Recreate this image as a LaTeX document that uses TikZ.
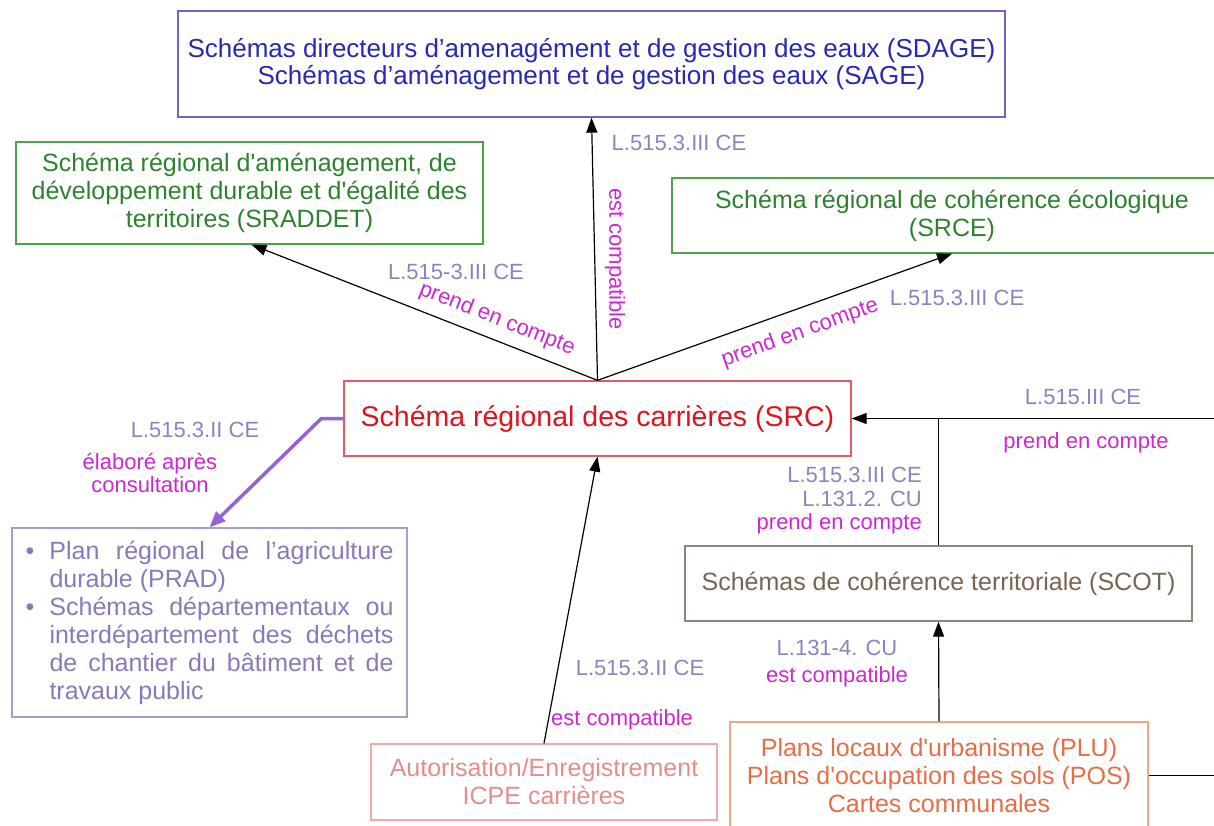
\documentclass[tikz,border=0pt]{standalone}
\usepackage{fontspec}
\setmainfont{Liberation Sans}
\usetikzlibrary{arrows.meta,calc}
\newcommand{\apos}{\XeTeXglyph\XeTeXcharglyph"0027\relax}
\definecolor{sdagetxt}{RGB}{40,40,180}\definecolor{sdageln}{RGB}{110,100,200}
\definecolor{greentxt}{RGB}{45,130,45}\definecolor{greenln}{RGB}{80,160,80}
\definecolor{srctxt}{RGB}{220,20,30}\definecolor{srcln}{RGB}{225,90,100}
\definecolor{pradtxt}{RGB}{140,120,185}\definecolor{pradln}{RGB}{170,155,205}\definecolor{pradarr}{RGB}{150,100,210}
\definecolor{scottxt}{RGB}{120,100,80}\definecolor{scotln}{RGB}{150,130,115}
\definecolor{icpetxt}{RGB}{230,140,140}\definecolor{icpeln}{RGB}{240,170,170}
\definecolor{plutxt}{RGB}{230,110,70}\definecolor{pluln}{RGB}{240,165,140}
\definecolor{lblcol}{RGB}{140,130,195}\definecolor{relcol}{RGB}{205,40,205}
\tikzset{>={Triangle[length=15pt,width=11pt]},every node/.style={font=\fontsize{25}{28}\selectfont},
  box/.style={draw,line width=1.3pt,align=center,inner sep=0pt},
  lbl/.style={text=lblcol,inner sep=0pt,font=\fontsize{22}{23.5}\selectfont},
  rel/.style={text=relcol,inner sep=0pt,font=\fontsize{22}{23.5}\selectfont},
  link/.style={line width=1.2pt,->},wire/.style={line width=1.2pt},
  consult/.style={line width=3.5pt,draw=pradarr,->,>={Triangle[length=16pt,width=13pt]}}}

\begin{document}
\begin{tikzpicture}[x=1pt,y=-1pt]
\useasboundingbox (0,0) rectangle (1214,826);
\node[box,draw=sdageln,text=sdagetxt,minimum width=827pt,minimum height=106pt,font=\fontsize{26}{27}\selectfont] (sdage) at (591.5,64)
  {Schémas directeurs d’amenagément et de gestion des eaux (SDAGE)\\Schémas d’aménagement et de gestion des eaux (SAGE)};
\node[box,draw=greenln,text=greentxt,minimum width=467pt,minimum height=102pt] (sraddet) at (249.5,193)
  {Schéma régional d\apos aménagement, de\\développement durable et d\apos égalité des\\territoires (SRADDET)};
\node[box,draw=greenln,text=greentxt,minimum width=560pt,minimum height=75pt] (srce) at (952,215.5)
  {Schéma régional de cohérence écologique\\(SRCE)};
\node[box,draw=srcln,text=srctxt,minimum width=507pt,minimum height=75pt,font=\fontsize{28.5}{30}\selectfont] (src) at (597.5,418.5)
  {Schéma régional des carrières (SRC)};
\node[box,draw=pradln,text=pradtxt,minimum width=395pt,minimum height=189pt,text width=368pt,align=justify] (prad) at (209.5,622.5)
  {\noindent\hangindent=24pt\hangafter=1\makebox[24pt][l]{\textbullet}Plan régional de l’agriculture\linebreak durable (PRAD)\par
   \noindent\hangindent=24pt\hangafter=1\makebox[24pt][l]{\textbullet}Schémas départementaux ou\linebreak interdépartement des déchets\linebreak de chantier du bâtiment et de\linebreak travaux public\par};
\node[box,draw=scotln,text=scottxt,minimum width=507pt,minimum height=75pt] (scot) at (938.5,583.5)
  {Schémas de cohérence territoriale (SCOT)};
\node[box,draw=icpeln,text=icpetxt,minimum width=346pt,minimum height=76pt] (icpe) at (544,782)
  {Autorisation/Enregistrement\\ICPE carrières};
\node[box,draw=pluln,text=plutxt,minimum width=418pt,minimum height=107pt] (plu) at (939,775.5)
  {Plans locaux d\apos urbanisme (PLU)\\Plans d\apos occupation des sols (POS)\\Cartes communales};
\coordinate (edge) at (1220,418.5);

\draw[link] (src.north) -- (sdage.south);
\draw[link] (src.north) -- ([xshift=2pt]sraddet.south);
\draw[link] (src.north) -- (srce.south);
\draw[link] (edge) -- (src.east);
\draw[wire] (scot.north) -- (scot.north |- src.east);
\draw[link] (plu.north) -- (scot.south);
\draw[wire] (plu.east) -- (plu.east -| edge);
\draw[link] (icpe.north) -- (src.south);
\draw[consult] (src.west) -- ++(-22,0) -- (prad.north);

\node[lbl] (lsdage) at (679,143) {L.515.3.III CE};
\node[rel,rotate=-90] (rsdage) at (615,259) {est compatible};
\node[lbl] (lsraddet) at (456,272) {L.515-3.III CE};
\node[rel,rotate=-21.5] (rsraddet) at (497,319) {prend en compte};
\node[rel,rotate=19.8] (rsrce) at (800,333) {prend en compte};
\node[lbl] (lsrce) at (957,298) {L.515.3.III CE};
\node[lbl] (ledge) at (1083,397) {L.515.III CE};
\node[rel] (redge) at (1086,443) {prend en compte};
\node[lbl,anchor=east,align=right] (lscot) at (922,501) {L.515.3.III CE\\L.131.2. CU\\\textcolor{relcol}{prend en compte}};
\node[lbl] (lplu) at (837,648) {L.131-4. CU};
\node[rel] (rplu) at (837,677) {est compatible};
\node[lbl] (licpe) at (640,668) {L.515.3.II CE};
\node[rel] (ricpe) at (622,720) {est compatible};
\node[lbl] (lprad) at (195,430) {L.515.3.II CE};
\node[rel,align=center] (rprad) at (150,473) {élaboré après\\consultation};
\end{tikzpicture}
\end{document}
